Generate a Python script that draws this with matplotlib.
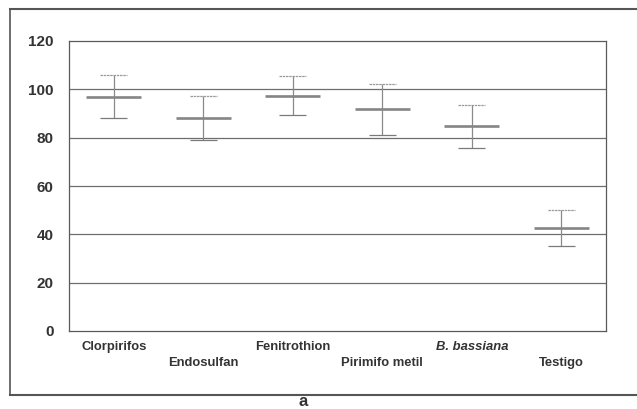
import matplotlib
matplotlib.use("Agg")
import matplotlib.pyplot as plt
from matplotlib.lines import Line2D
import numpy as np

categories = ["Clorpirifos", "Endosulfan", "Fenitrothion", "Pirimifo metil", "B. bassiana", "Testigo"]
means = [96.9, 88.0, 97.2, 91.8, 84.7, 42.5]
upper = [106.1, 97.1, 105.4, 102.3, 93.6, 49.9]
lower = [88.0, 78.9, 89.2, 81.2, 75.7, 35.3]
yticks = [0, 20, 40, 60, 80, 100, 120]

plt.rcParams['font.family'] = ['Liberation Sans', 'DejaVu Sans']

W, H = 637, 409
fig = plt.figure(figsize=(W / 100, H / 100), dpi=100)
ax = fig.add_axes([69 / W, (H - 331) / H, (606 - 69) / W, (331 - 41) / H])

x = np.arange(len(categories)) + 0.5
ax.set_xlim(0, len(categories))
ax.set_ylim(0, 120)

for yv in yticks[1:-1]:
    ax.axhline(yv, color="#6e6e6e", lw=0.9, zorder=1)

ax.vlines(x, lower, upper, color="#8a8a8a", lw=0.9, zorder=2)
ax.hlines(upper, x - 0.15, x + 0.15, color="#9a9a9a", lw=0.9, linestyles=(0, (2, 0.6)), zorder=2)
ax.hlines(lower, x - 0.15, x + 0.15, color="#7a7a7a", lw=0.9, zorder=2)
ax.hlines(means, x - 0.31, x + 0.31, color="#858585", lw=1.9, zorder=3)

for s in ax.spines.values():
    s.set_color("#5a5a5a")
    s.set_linewidth(0.9)

ax.set_yticks(yticks)
ax.set_yticklabels([str(v) for v in yticks], fontsize=11, fontweight="bold", color="#333333")
ax.tick_params(axis="y", length=0, pad=11)
ax.set_xticks([])

for i, (xi, name) in enumerate(zip(x, categories)):
    yoff = -16 if i % 2 == 0 else -32
    style = "italic" if name.startswith("B.") else "normal"
    ax.annotate(name, (xi, 0), xycoords=("data", "axes fraction"),
                xytext=(0, yoff), textcoords="offset pixels",
                ha="center", va="center", fontsize=9.4, fontweight="bold",
                fontstyle=style, color="#333333")

# outer frame
fx0 = 10 / W
fy0 = (H - 395) / H
fy1 = (H - 9) / H
fig.add_artist(Line2D([fx0, 1.0], [fy1, fy1], color="#555555", lw=1.5, transform=fig.transFigure))
fig.add_artist(Line2D([fx0, 1.0], [fy0, fy0], color="#555555", lw=1.5, transform=fig.transFigure))
fig.add_artist(Line2D([fx0, fx0], [fy0, fy1], color="#555555", lw=1.2, transform=fig.transFigure))

fig.text(303 / W, (H - 402) / H, "a", ha="center", va="center", fontsize=12,
         fontweight="bold", color="#333333")

fig.savefig("out.png", dpi=100)
